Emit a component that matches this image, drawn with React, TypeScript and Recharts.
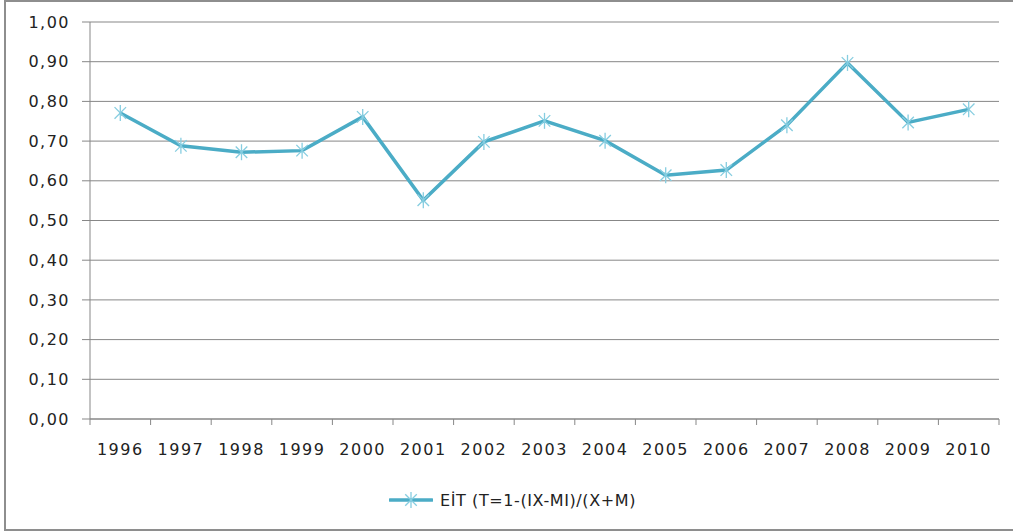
import React from 'react';
import { LineChart, Line, XAxis, YAxis, CartesianGrid, Legend } from 'recharts';

const years = ['1996', '1997', '1998', '1999', '2000', '2001', '2002', '2003', '2004', '2005', '2006', '2007', '2008', '2009', '2010'];
const eitValues = [0.771, 0.688, 0.672, 0.676, 0.761, 0.551, 0.698, 0.751, 0.701, 0.614, 0.627, 0.74, 0.897, 0.747, 0.78];
const yTicks = [0, 0.1, 0.2, 0.3, 0.4, 0.5, 0.6, 0.7, 0.8, 0.9, 1];
const seriesName = 'EİT (T=1-(IX-MI)/(X+M)';

const data = years.map((year, i) => ({ year, eit: eitValues[i] }));

const FONT = '"DejaVu Sans", sans-serif';
const AXIS_GRAY = '#878787';
const LINE_BLUE = '#4BACC6';
const MARKER_BLUE = '#86cde0';

const Asterisk = ({ cx, cy, r = 8 }: { cx: number; cy: number; r?: number }) => {
  const d = r * 0.72;
  return (
    <g stroke={MARKER_BLUE} strokeWidth={1.3}>
      <line x1={cx} y1={cy - r} x2={cx} y2={cy + r} />
      <line x1={cx - d} y1={cy - d} x2={cx + d} y2={cy + d} />
      <line x1={cx - d} y1={cy + d} x2={cx + d} y2={cy - d} />
    </g>
  );
};

const StarDot = (props: any) => {
  const { cx, cy, index } = props;
  if (cx == null || cy == null) return null;
  return <Asterisk key={`dot-${index}`} cx={cx} cy={cy} />;
};

const YearTick = (props: any) => {
  const { x, y, payload, index, width } = props;
  const bw = width / years.length;
  return (
    <g>
      <line x1={x - bw / 2} y1={y - 6} x2={x - bw / 2} y2={y} stroke={AXIS_GRAY} />
      {index === years.length - 1 && (
        <line x1={x + bw / 2} y1={y - 6} x2={x + bw / 2} y2={y} stroke={AXIS_GRAY} />
      )}
      <text
        x={x}
        y={y + 19}
        dy="0.71em"
        textAnchor="middle"
        fill="#222"
        style={{ fontFamily: FONT, fontSize: 16, letterSpacing: 1.5 }}
      >
        {payload.value}
      </text>
    </g>
  );
};

const LegendContent = () => (
  <div style={{ display: 'flex', alignItems: 'center', height: 24, paddingLeft: 389 }}>
    <svg width={44} height={24}>
      <line x1={1} y1={12} x2={43} y2={12} stroke={LINE_BLUE} strokeWidth={3.5} strokeLinecap="round" />
      <Asterisk cx={22} cy={12} />
    </svg>
    <span style={{ marginLeft: 7, fontFamily: FONT, fontSize: 16, letterSpacing: 0.6, color: '#222' }}>
      {seriesName}
    </span>
  </div>
);

export default function App() {
  return (
    <div style={{ position: 'absolute', left: 0, top: 0, width: 1013, height: 531, overflow: 'hidden', background: '#fff' }}>
      <div
        style={{
          position: 'absolute',
          left: 4,
          top: 0,
          width: 1020,
          height: 527,
          border: '2px solid #8e8e8e',
        }}
      />
      <div style={{ position: 'absolute', left: 0, top: 0 }}>
        <LineChart width={1013} height={531} data={data} margin={{ top: 22, right: 14, left: 0, bottom: 48 }}>
          <CartesianGrid vertical={false} stroke={AXIS_GRAY} />
          <XAxis
            dataKey="year"
            scale="band"
            height={40}
            axisLine={{ stroke: AXIS_GRAY }}
            tickLine={false}
            tickSize={6}
            tickMargin={0}
            interval={0}
            tick={<YearTick />}
          />
          <YAxis
            width={90}
            domain={[0, 1]}
            ticks={yTicks}
            interval={0}
            axisLine={{ stroke: AXIS_GRAY }}
            tickLine={{ stroke: AXIS_GRAY }}
            tickSize={8}
            tickMargin={12}
            tickFormatter={(v: number) => v.toFixed(2).replace('.', ',')}
            tick={{ fill: '#222', fontFamily: FONT, fontSize: 16, letterSpacing: 1.5 }}
          />
          <Legend
            verticalAlign="bottom"
            content={<LegendContent />}
            wrapperStyle={{ height: 24, width: 1013, left: 0, top: 488 }}
          />
          <Line
            type="linear"
            dataKey="eit"
            name={seriesName}
            stroke={LINE_BLUE}
            strokeWidth={3.5}
            dot={<StarDot />}
            activeDot={false}
            isAnimationActive={false}
          />
        </LineChart>
      </div>
    </div>
  );
}
